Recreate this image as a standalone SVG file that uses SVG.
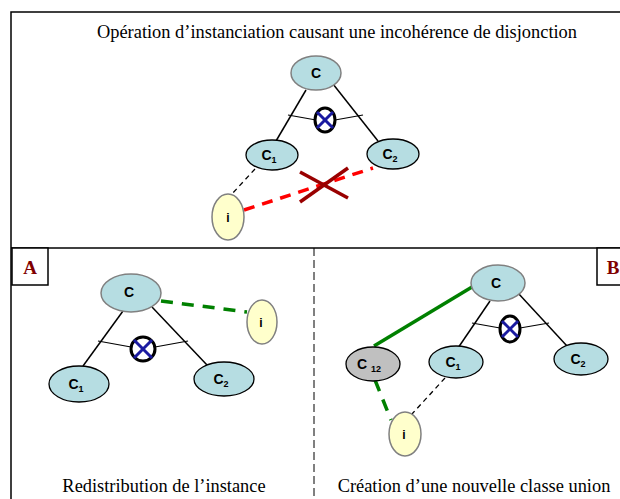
<svg xmlns="http://www.w3.org/2000/svg" width="620" height="499" viewBox="0 0 620 499">
<style>
.frame{fill:none;stroke:#000;stroke-width:1.5}
.cls{fill:#b6dde2;stroke:#000;stroke-width:1.3}
.clsg{fill:#b6dde2;stroke:#808080;stroke-width:1.5}
.inst{fill:#ffffcc;stroke:#808080;stroke-width:1.5}
.union{fill:#c0c0c0;stroke:#000;stroke-width:1.3}
.lbl{font-family:"Liberation Sans",Arial,sans-serif;font-weight:bold;font-size:14px;fill:#000;text-anchor:middle}
.sub{font-size:9px}
.cap{font-family:"Liberation Serif","Times New Roman",serif;font-size:18.4px;fill:#000;text-anchor:middle}
.tag{font-family:"Liberation Serif","Times New Roman",serif;font-size:19px;font-weight:bold;fill:#800000;text-anchor:middle}
.edge{stroke:#000;stroke-width:1.5;fill:none}
.thin{stroke:#000;stroke-width:1.2;fill:none}
.bdash{stroke:#000;stroke-width:1.3;stroke-dasharray:5,4;fill:none}
.rdash{stroke:#ff0000;stroke-width:3.5;stroke-dasharray:11,8;fill:none}
.gdash{stroke:#008000;stroke-width:3.5;stroke-dasharray:12,9;fill:none}
.gsolid{stroke:#008000;stroke-width:3.5;fill:none}
.disj{fill:none;stroke:#000;stroke-width:3}
.bx{stroke:#1a1aa0;stroke-width:3}
.bigx{stroke:#990000;stroke-width:3.5}
</style>

<g id="frames">
<path class="frame" d="M11,499 V12 H620"/>
<path class="frame" d="M11,248 H620"/>
<line x1="314" y1="248" x2="314" y2="499" stroke="#000" stroke-width="1" stroke-dasharray="8,4"/>
</g>

<g id="captions">
<text class="cap" x="337" y="38">Opération d’instanciation causant une incohérence de disjonction</text>
<text class="cap" x="164" y="492">Redistribution de l’instance</text>
<text class="cap" x="474" y="492">Création d’une nouvelle classe union</text>
</g>

<g id="tagA">
<rect x="12" y="248" width="36" height="37" fill="#fff" stroke="#000" stroke-width="1.5"/>
<text class="tag" x="30" y="274">A</text>
</g>
<g id="tagB">
<rect x="597" y="248" width="30" height="37" fill="#fff" stroke="#000" stroke-width="1.5"/>
<text class="tag" x="613" y="274">B</text>
</g>

<!-- connectors -->
<g id="connectors">
<!-- top -->
<line class="edge" x1="306" y1="90" x2="276" y2="141"/>
<line class="edge" x1="333" y1="84" x2="378" y2="141"/>
<line class="thin" x1="288" y1="115" x2="316" y2="120"/>
<line class="thin" x1="335" y1="120" x2="363" y2="115"/>
<line class="bdash" x1="255" y1="169" x2="231" y2="195"/>
<line class="rdash" x1="244" y1="210" x2="373" y2="168"/>
<!-- A -->
<line class="edge" x1="123" y1="311" x2="83" y2="366"/>
<line class="edge" x1="152" y1="307" x2="207" y2="365"/>
<line class="thin" x1="98" y1="341" x2="131" y2="347"/>
<line class="thin" x1="155" y1="347" x2="188" y2="341"/>
<line class="gdash" x1="161" y1="301" x2="247" y2="312"/>
<!-- B -->
<line class="edge" x1="490" y1="301" x2="458" y2="348"/>
<line class="edge" x1="518" y1="293" x2="567" y2="346"/>
<line class="thin" x1="472" y1="323" x2="500" y2="328"/>
<line class="thin" x1="520" y1="328" x2="549" y2="323"/>
<line class="gsolid" x1="472" y1="287" x2="374" y2="346"/>
<line class="gdash" x1="375" y1="380" x2="391" y2="420"/>
<line class="bdash" x1="445" y1="378" x2="412" y2="414"/>
</g>

<!-- top diagram -->
<g id="top-C"><ellipse class="clsg" cx="316" cy="73" rx="25" ry="17"/><text class="lbl" x="316" y="78">C</text></g>
<g id="top-C1"><ellipse class="cls" cx="272" cy="155" rx="26" ry="15"/><text class="lbl" x="269" y="160">C<tspan class="sub" dy="3">1</tspan></text></g>
<g id="top-C2"><ellipse class="cls" cx="393" cy="154" rx="26" ry="15"/><text class="lbl" x="390" y="159">C<tspan class="sub" dy="3">2</tspan></text></g>
<g id="top-i"><ellipse class="inst" cx="228" cy="217" rx="16" ry="23"/><text class="lbl" x="228" y="222" style="font-size:12px">i</text></g>
<g id="top-disj"><ellipse class="disj" cx="325" cy="120" rx="10" ry="12"/><line class="bx" x1="317" y1="112" x2="333" y2="128"/><line class="bx" x1="317" y1="128" x2="333" y2="112"/></g>
<g id="top-cross"><line class="bigx" x1="300" y1="172" x2="348" y2="198"/><line class="bigx" x1="300" y1="202" x2="348" y2="168"/></g>

<!-- panel A -->
<g id="A-C"><ellipse class="clsg" cx="131" cy="293" rx="30" ry="19"/><text class="lbl" x="129" y="297">C</text></g>
<g id="A-C1"><ellipse class="cls" cx="79" cy="384" rx="30" ry="18"/><text class="lbl" x="76" y="389">C<tspan class="sub" dy="3">1</tspan></text></g>
<g id="A-C2"><ellipse class="cls" cx="224" cy="379" rx="30" ry="17"/><text class="lbl" x="221" y="384">C<tspan class="sub" dy="3">2</tspan></text></g>
<g id="A-i"><ellipse class="inst" cx="262" cy="322" rx="15" ry="22"/><text class="lbl" x="261" y="327" style="font-size:12px">i</text></g>
<g id="A-disj"><ellipse class="disj" cx="143" cy="349" rx="12" ry="12"/><line class="bx" x1="134" y1="340" x2="152" y2="358"/><line class="bx" x1="134" y1="358" x2="152" y2="340"/></g>

<!-- panel B -->
<g id="B-C"><ellipse class="clsg" cx="498" cy="283" rx="27" ry="18"/><text class="lbl" x="496" y="288">C</text></g>
<g id="B-C12"><ellipse class="union" cx="373" cy="364" rx="27" ry="17"/><text class="lbl" x="369" y="369">C <tspan class="sub" dy="3">12</tspan></text></g>
<g id="B-C1"><ellipse class="cls" cx="456" cy="362" rx="27" ry="16"/><text class="lbl" x="453" y="367">C<tspan class="sub" dy="3">1</tspan></text></g>
<g id="B-C2"><ellipse class="cls" cx="581" cy="359" rx="27" ry="16"/><text class="lbl" x="578" y="364">C<tspan class="sub" dy="3">2</tspan></text></g>
<g id="B-i"><ellipse class="inst" cx="405" cy="434" rx="16" ry="22"/><text class="lbl" x="404" y="439" style="font-size:12px">i</text></g>
<g id="B-disj"><ellipse class="disj" cx="510" cy="329" rx="10" ry="13"/><line class="bx" x1="502" y1="321" x2="518" y2="337"/><line class="bx" x1="502" y1="337" x2="518" y2="321"/></g>
</svg>
